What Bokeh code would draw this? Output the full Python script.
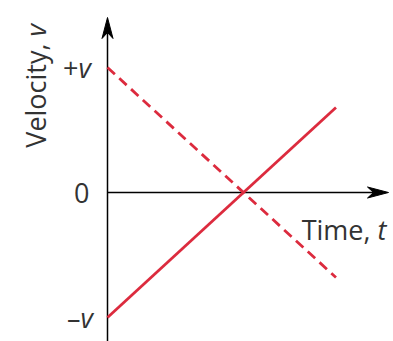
from bokeh.plotting import figure
from bokeh.models import Label, Range1d
from bokeh.embed import file_html
from bokeh.resources import INLINE

# ---- data ----
time_vals = [0.0, 1.68]
v_rising = [-1.0, 0.68]      # solid line
v_falling = [1.0, -0.68]     # dashed line
tick_values = [1, 0, -1]
tick_signs = ["+", "", "\u2013"]
tick_letters = ["v", "0", "v"]
x_label = ("Time, ", "t")
y_label = ("Velocity, ", "v")

# ---- geometry (pixel scale of the frame) ----
W, H = 393, 341
PX_T = 136.0   # pixels per unit of time
PX_V = 125.0   # pixels per unit of velocity
X0 = 107.0     # frame x of t=0
Y0 = 192.0     # frame y (from top) of v=0

def tx(px):   # frame pixel x -> data t
    return (px - X0) / PX_T

def vy(py):   # frame pixel y (from top) -> data v
    return (Y0 - py) / PX_V

p = figure(width=W, height=H, output_backend="svg", toolbar_location=None,
           x_range=Range1d(tx(0), tx(W)), y_range=Range1d(vy(H), vy(0)),
           min_border=0)
p.axis.visible = False
p.grid.visible = False
p.outline_line_color = None
p.background_fill_color = "white"
p.border_fill_color = "white"

RED = "#dc2b3e"
INK = "#333333"
FONT = "Open Sans"
FS = "27px"

# axes lines
x_tip = tx(388)
y_tip = vy(17)
y_bot = vy(H)
p.line([0, x_tip - 15 / PX_T], [0, 0], line_color="black", line_width=1.5)
p.line([0, 0], [y_bot, y_tip - 15 / PX_V], line_color="black", line_width=1.5)

# arrow heads
hl, hw, hn = 21.0, 5.5, 15.0
p.patch([x_tip, x_tip - hl / PX_T, x_tip - hn / PX_T, x_tip - hl / PX_T],
        [0, hw / PX_V, 0, -hw / PX_V], color="black")
p.patch([0, hw / PX_T, 0, -hw / PX_T],
        [y_tip, y_tip - hl / PX_V, y_tip - hn / PX_V, y_tip - hl / PX_V], color="black")

# data lines
p.line(time_vals, v_rising, line_color=RED, line_width=2.8)
p.line(time_vals, v_falling, line_color=RED, line_width=2.8, line_dash="10 6")

# tick labels
split_off = [-29, -18, -27]
for val, s, let, off in zip(tick_values, tick_signs, tick_letters, split_off):
    if s:
        p.add_layout(Label(x=0, y=val, x_offset=off, text=s, text_align="right",
                           text_baseline="middle", text_font=FONT, text_font_size=FS,
                           text_color=INK))
        p.add_layout(Label(x=0, y=val, x_offset=off, text=let, text_align="left",
                           text_baseline="middle", text_font=FONT, text_font_size=FS,
                           text_font_style="italic", text_color=INK))
    else:
        p.add_layout(Label(x=0, y=val, x_offset=off, text=let, text_align="right",
                           text_baseline="middle", text_font=FONT, text_font_size=FS,
                           text_color=INK))

# x label
xl_x = tx(377)
xl_y = vy(229)
p.add_layout(Label(x=xl_x, y=xl_y, text=x_label[0], text_align="right",
                   text_baseline="alphabetic", text_font=FONT, text_font_size=FS,
                   text_color=INK))
p.add_layout(Label(x=xl_x, y=xl_y, text=x_label[1], text_align="left",
                   text_baseline="alphabetic", text_font=FONT, text_font_size=FS,
                   text_font_style="italic", text_color=INK))

# y label (rotated)
yl_x = tx(35)
yl_y = vy(36)
p.add_layout(Label(x=yl_x, y=yl_y, text=y_label[0], text_align="right", angle=1.5708,
                   text_baseline="alphabetic", text_font=FONT, text_font_size=FS,
                   text_color=INK))
p.add_layout(Label(x=yl_x, y=yl_y, text=y_label[1], text_align="left", angle=1.5708,
                   text_baseline="alphabetic", text_font=FONT, text_font_size=FS,
                   text_font_style="italic", text_color=INK))

open("out.html", "w").write(file_html(p, INLINE))
